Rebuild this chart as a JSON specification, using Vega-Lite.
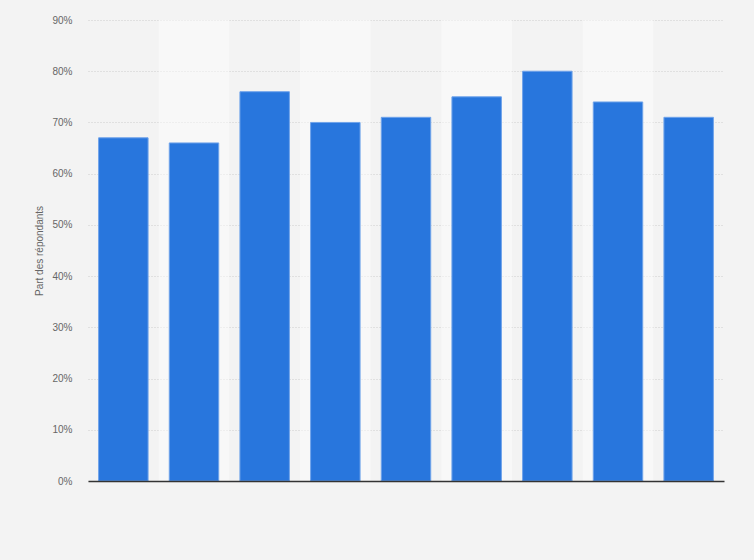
{
  "$schema": "https://vega.github.io/schema/vega-lite/v6.json",
  "width": 636,
  "height": 461,
  "autosize": {"type": "none"},
  "padding": {"left": 88, "top": 20, "right": 30, "bottom": 79},
  "background": "#f3f3f3",
  "data": {
    "values": [
      {"cat": "A", "share": 0.67},
      {"cat": "B", "share": 0.66},
      {"cat": "C", "share": 0.76},
      {"cat": "D", "share": 0.70},
      {"cat": "E", "share": 0.71},
      {"cat": "F", "share": 0.75},
      {"cat": "G", "share": 0.80},
      {"cat": "H", "share": 0.74},
      {"cat": "I", "share": 0.71}
    ]
  },
  "transform": [
    {"window": [{"op": "row_number", "as": "idx"}]}
  ],
  "encoding": {
    "x": {
      "field": "cat",
      "type": "nominal",
      "sort": null,
      "scale": {"paddingInner": 0, "paddingOuter": 0},
      "axis": {
        "title": null,
        "labels": false,
        "ticks": false,
        "domain": true,
        "domainColor": "#333333",
        "domainWidth": 1.5,
        "grid": false
      }
    }
  },
  "layer": [
    {
      "mark": {"type": "rect", "color": "#ffffff"},
      "encoding": {
        "y": {"datum": 0.9, "type": "quantitative"},
        "y2": {"datum": 0},
        "opacity": {
          "condition": {"test": "datum.idx % 2 == 0", "value": 0.45},
          "value": 0
        }
      }
    },
    {
      "mark": {
        "type": "bar",
        "width": {"band": 0.7},
        "color": "#2876dd",
        "stroke": "#6fa3ea",
        "strokeWidth": 1
      },
      "encoding": {
        "y": {
          "field": "share",
          "type": "quantitative",
          "scale": {"domain": [0, 0.9], "nice": false},
          "axis": {
            "title": "Part des répondants",
            "titleFont": "Liberation Sans",
            "titleFontSize": 10,
            "titleFontWeight": "normal",
            "titleColor": "#666666",
            "titlePadding": 7,
            "values": [0, 0.1, 0.2, 0.3, 0.4, 0.5, 0.6, 0.7, 0.8, 0.9],
            "format": ".0%",
            "labelFont": "Liberation Sans",
            "labelFontSize": 10,
            "labelColor": "#666666",
            "labelPadding": 16,
            "ticks": false,
            "domain": false,
            "grid": true,
            "gridColor": "#cccccc",
            "gridDash": [1, 2],
            "gridWidth": 1
          }
        },
        "tooltip": [
          {"field": "share", "type": "quantitative", "format": ".0%"}
        ]
      }
    }
  ],
  "config": {
    "view": {"stroke": null}
  }
}
